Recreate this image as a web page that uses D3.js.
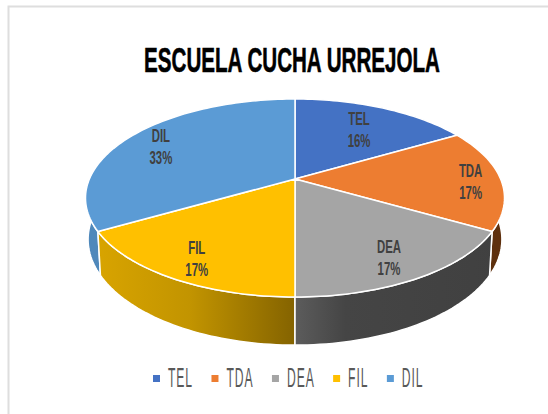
<!DOCTYPE html>
<html><head><meta charset="utf-8">
<script src="https://cdn.jsdelivr.net/npm/d3@7"></script>
<style>html,body{margin:0;padding:0;background:#fff}svg{display:block}</style>
</head><body><svg id="c" width="548" height="414"></svg>
<script>
const chartTitle = "ESCUELA CUCHA URREJOLA";
const categories = ["TEL","TDA","DEA","FIL","DIL"];
const values = [16.6,16.7,16.7,16.7,33.3];
const percentLabels = ["16%","17%","17%","17%","33%"];
const colors = ["#4472c4","#ed7d31","#a5a5a5","#ffc000","#5b9bd5"];

const W=548,H=414;
const svg=d3.select("#c");
const FONT="'Liberation Sans Narrow','Liberation Sans',sans-serif";
const defs=svg.append("defs");

// chart frame
svg.append("rect").attr("x",8.5).attr("y",6.5).attr("width",W+20).attr("height",H+20)
  .attr("fill","#fff").attr("stroke","#dedede").attr("stroke-width",2);

// projected disc: homography of the unit circle
const cx=295,k=205.6,c=-0.192,a=61,b=179;
const topPt=(t)=>{const u=Math.sin(t),v=-Math.cos(t),w=1+c*v;return [cx+k*u/w,(a*v+b)/w];};
const lowPt=(t)=>{const u=Math.sin(t),v=-Math.cos(t),w=1.012+c*v;return [cx+k*u/w,(a*v+222)/w];};

const arcs=d3.pie().sort(null).value(d=>d)(values);
const line=d3.line();
const samples=(s,e)=>{const n=Math.max(8,Math.ceil((e-s)*40));return d3.range(n+1).map(i=>s+(e-s)*i/n);};

// side gradients
const grad=(id,stops)=>{const g=defs.append("linearGradient").attr("id",id).attr("gradientUnits","userSpaceOnUse")
  .attr("x1",85).attr("x2",505).attr("y1",0).attr("y2",0);
  stops.forEach(([o,col])=>g.append("stop").attr("offset",o).attr("stop-color",col));};
grad("s0",[[0,"#2e4f8a"],[1,"#2e4f8a"]]);
grad("s1",[[0,"#5e300e"],[1,"#5e300e"]]);
grad("s2",[[0.5,"#5c5c5c"],[0.62,"#454545"],[1,"#404040"]]);
grad("s3",[[0,"#dba600"],[0.25,"#c29400"],[0.5,"#846300"]]);
grad("s4",[[0,"#4f88bb"],[1,"#4f88bb"]]);

// sides, far to near
const sideOrder=[0,4,1,3,2];
const sides=svg.append("g");
sideOrder.forEach(i=>{
  const d=arcs[i],ts=samples(d.startAngle,d.endAngle);
  const pts=ts.map(topPt).concat(ts.slice().reverse().map(lowPt));
  sides.append("path").attr("d",line(pts)+"Z").attr("fill",`url(#s${i})`)
    .attr("stroke","#fff").attr("stroke-width",1.5).attr("stroke-linejoin","round");
});

// top face
const faces=svg.append("g");
arcs.forEach((d,i)=>{
  const pts=[[cx,b]].concat(samples(d.startAngle,d.endAngle).map(topPt));
  faces.append("path").attr("d",line(pts)+"Z").attr("fill",colors[i])
    .attr("stroke","#fff").attr("stroke-width",1.5).attr("stroke-linejoin","round");
});

// labels: anchor along the slice in disc coordinates, then nudge
const condensed=(sel,x,y,sx)=>sel.attr("transform",`translate(${x},${y}) scale(${sx},1)`);
const labelRadius=[0.69,0.87,0.68,0.72,0.72];
const labelAngleShift=[0.05,0.03,-0.13,0.09,-0.08];
const labelDx=[-5,-4,-1,-2,-8];
const labelDy=[0,0,21,16,-5];
const disc=(ang,r)=>{const u=r*Math.sin(ang),v=-r*Math.cos(ang),w=1+c*v;return [cx+k*u/w,(a*v+b)/w];};
arcs.forEach((d,i)=>{
  const [x0,y0]=disc((d.startAngle+d.endAngle)/2+labelAngleShift[i],labelRadius[i]);
  const x=x0+labelDx[i],y=y0+labelDy[i];
  const g=svg.append("g").attr("fill","#404040").attr("font-family",FONT).attr("font-size",19).attr("font-weight","bold").attr("text-anchor","middle");
  condensed(g.append("text").text(categories[i]),x,y-4,0.6);
  condensed(g.append("text").text(percentLabels[i]),x,y+18,0.6);
});

// title
const titleText=svg.append("text").text(chartTitle).attr("text-anchor","middle")
  .attr("font-family",FONT).attr("font-weight","bold").attr("font-size",36)
  .attr("fill","#000").attr("stroke","#000").attr("stroke-width",0.6);
condensed(titleText,292,72,296/titleText.node().getComputedTextLength());

// legend: items flow by measured text width
const legendGap=18.5,legendSx=0.45;
const legend=svg.append("g");
let lx=153;
categories.forEach((n,i)=>{
  legend.append("rect").attr("x",lx).attr("y",375).attr("width",7).attr("height",7).attr("fill",colors[i]);
  const t=legend.append("text").text(n).attr("font-family",FONT).attr("font-size",27).attr("letter-spacing",2).attr("fill","#595959");
  condensed(t,lx+15,387,legendSx);
  lx+=15+t.node().getComputedTextLength()*legendSx+legendGap;
});
</script></body></html>
